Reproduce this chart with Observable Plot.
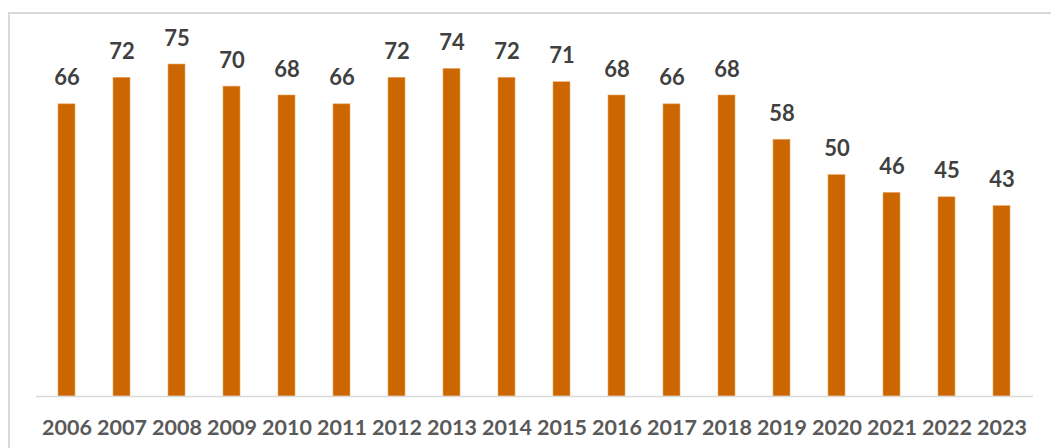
<!DOCTYPE html>
<html>
<head>
<meta charset="utf-8">
<script src="https://cdn.jsdelivr.net/npm/d3@7"></script>
<script src="https://cdn.jsdelivr.net/npm/@observablehq/plot@0.6"></script>
<style>
  html, body { margin: 0; padding: 0; background: #fff; }
  #wrap { position: relative; width: 1051px; height: 448px; overflow: hidden; }
  #border { position: absolute; left: 8px; top: 12px; width: 1100px; height: 500px;
            border-top: 2px solid #d9d9d9; border-left: 2px solid #d9d9d9; box-sizing: border-box; pointer-events: none; }
  #chart { position: absolute; left: 0; top: 0; }
</style>
</head>
<body>
<div id="wrap"><div id="border"></div><div id="chart"></div></div>
<script>
const years = ["2006","2007","2008","2009","2010","2011","2012","2013","2014","2015","2016","2017","2018","2019","2020","2021","2022","2023"];
const values = [66, 72, 75, 70, 68, 66, 72, 74, 72, 71, 68, 66, 68, 58, 50, 46, 45, 43];

const data = years.map((y, i) => ({year: y, value: values[i]}));

const chart = Plot.plot({
  width: 1051,
  height: 448,
  marginLeft: 36,
  marginRight: 18,
  marginTop: 64,
  marginBottom: 52,
  style: {fontFamily: "Lato, 'Open Sans', sans-serif", background: "transparent"},
  x: {domain: years, paddingInner: 0.69, paddingOuter: 0.345, label: null},
  y: {domain: [0, 75], axis: null},
  marks: [
    Plot.barY(data, {x: "year", y: "value", fill: "#CC6600", stroke: "#E9A86A", strokeWidth: 0.6}),
    Plot.ruleY([0], {stroke: "#d9d9d9", strokeWidth: 1.5}),
    Plot.text(data, {x: "year", y: "value", text: d => String(d.value), dy: -26,
      fill: "#404040", fontWeight: "bold", fontSize: 22}),
    Plot.axisX({tickSize: 0, tickPadding: 23, fontSize: 21.5, fontWeight: "bold", fill: "#595959", label: null})
  ]
});
document.getElementById("chart").append(chart);
</script>
</body>
</html>
